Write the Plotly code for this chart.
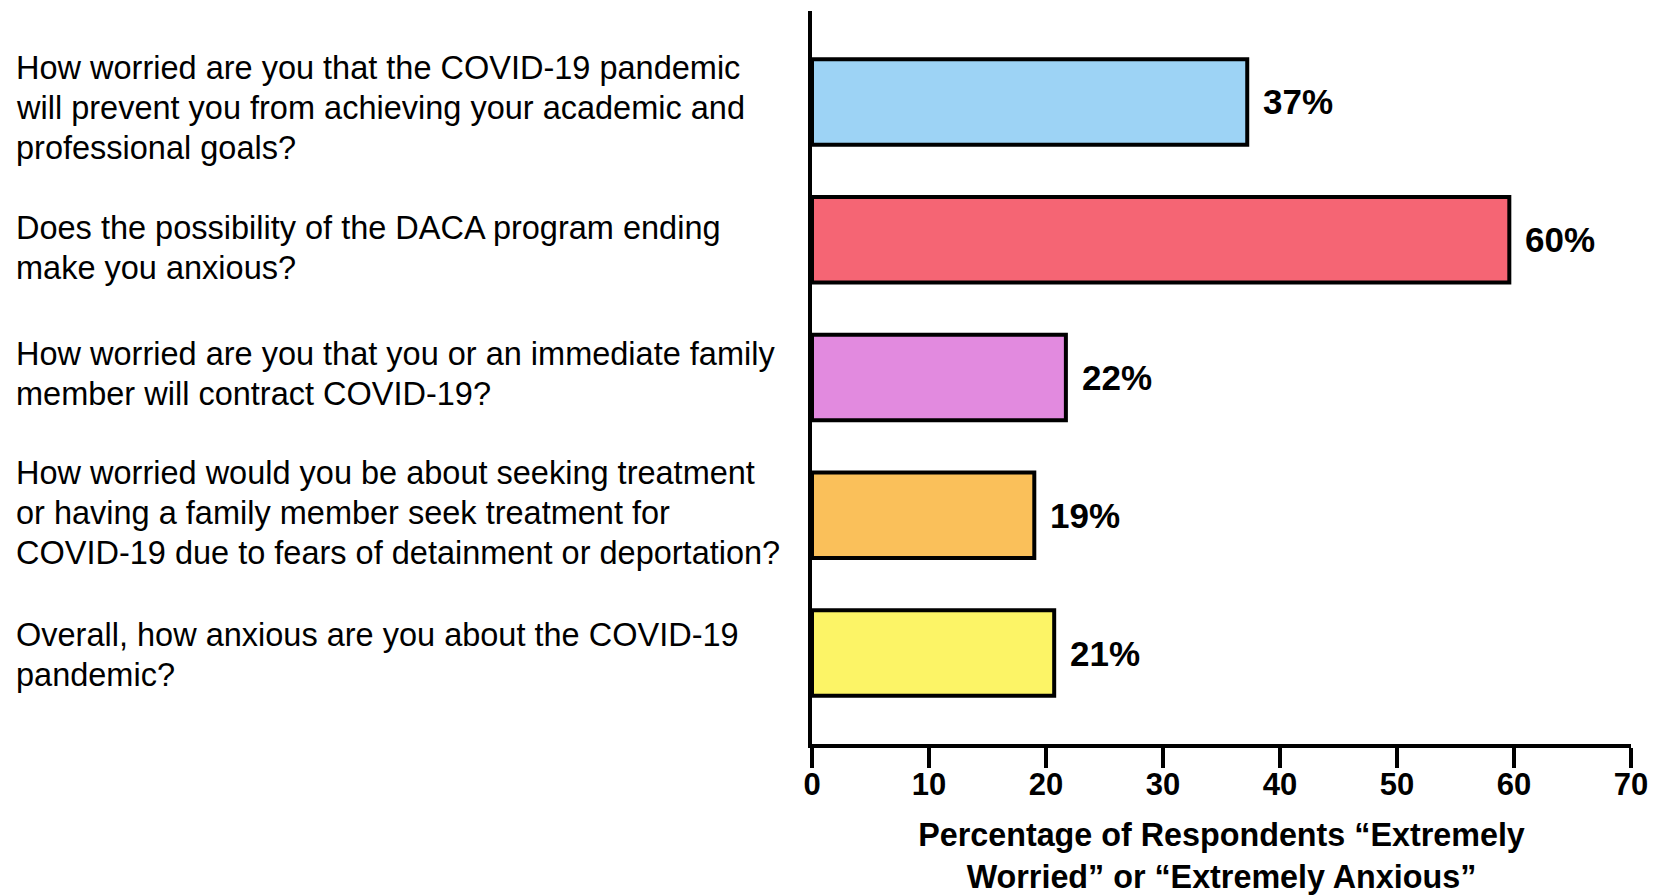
import plotly.graph_objects as go

questions = [
    "How worried are you that the COVID-19 pandemic<br>will prevent you from achieving your academic and<br>professional goals?",
    "Does the possibility of the DACA program ending<br>make you anxious?",
    "How worried are you that you or an immediate family<br>member will contract COVID-19?",
    "How worried would you be about seeking treatment<br>or having a family member seek treatment for<br>COVID-19 due to fears of detainment or deportation?",
    "Overall, how anxious are you about the COVID-19<br>pandemic?",
]
percentages = [37.2, 59.6, 21.7, 19.0, 20.7]
bar_colors = ["#9DD3F5", "#F56574", "#E28ADF", "#FAC05A", "#FCF466"]
x_ticks = [0, 10, 20, 30, 40, 50, 60, 70]
x_title = "Percentage of Respondents \u201cExtremely<br>Worried\u201d or \u201cExtremely Anxious\u201d"

FONT = "Liberation Sans, Arial, Helvetica, sans-serif"
LINE_H = 40          # px between question text lines
label_nudge = [-6, -8, 4, 2, -2]   # small vertical nudges (px, plotly yshift sign)

fig = go.Figure()
fig.add_trace(go.Bar(
    x=percentages,
    y=questions,
    orientation="h",
    width=0.62,
    marker=dict(color=bar_colors, line=dict(color="black", width=4)),
    hoverinfo="skip",
))

annotations = []
for q, p, nudge in zip(questions, percentages, label_nudge):
    annotations.append(dict(
        x=p, y=q, xref="x", yref="y", text=f"<b>{round(p)}%</b>",
        showarrow=False, xanchor="left", yanchor="middle", xshift=14,
        font=dict(family=FONT, size=35, color="black"),
    ))
    lines = q.split("<br>")
    n = len(lines)
    for i, line in enumerate(lines):
        annotations.append(dict(
            x=-0.974, y=q, xref="paper", yref="y", text=line,
            showarrow=False, xanchor="left", yanchor="middle", align="left",
            yshift=((n - 1) / 2 - i) * LINE_H + nudge,
            font=dict(family=FONT, size=32.5, color="black"),
        ))

fig.update_layout(
    width=1658, height=895,
    margin=dict(l=812, r=27, t=11, b=151),
    paper_bgcolor="white", plot_bgcolor="white",
    showlegend=False,
    annotations=annotations,
    xaxis=dict(
        range=[0, 70], tickvals=x_ticks, ticktext=[str(v) for v in x_ticks],
        automargin=False,
        showgrid=False, zeroline=False,
        showline=True, linecolor="black", linewidth=4,
        ticks="outside", ticklen=20, tickwidth=4, tickcolor="black",
        ticklabelstandoff=-10,
        tickfont=dict(family=FONT, size=31, color="black", weight="bold"),
        title=dict(text=f"<b>{x_title}</b>", standoff=24,
                   font=dict(family=FONT, size=32.3, color="black")),
    ),
    yaxis=dict(
        type="category", categoryorder="array", categoryarray=questions,
        range=[4.66, -0.66], automargin=False,
        showticklabels=False, showgrid=False, zeroline=False,
        showline=True, linecolor="black", linewidth=4, ticks="",
    ),
)

fig.write_html(
    "out.html",
    config={"displayModeBar": False},
    post_script="document.body.style.margin='0px';document.body.style.overflow='hidden';",
)
